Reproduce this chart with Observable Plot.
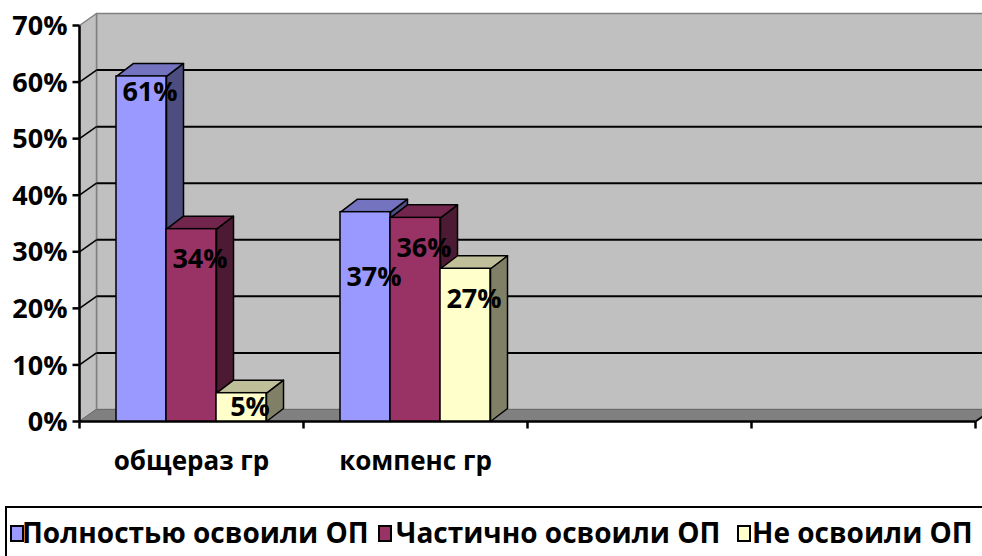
<!DOCTYPE html>
<html>
<head>
<meta charset="utf-8">
<script src="https://cdn.jsdelivr.net/npm/d3@7"></script>
<script src="https://cdn.jsdelivr.net/npm/@observablehq/plot@0.6"></script>
<style>
  html, body { margin: 0; padding: 0; background: #fff; overflow: hidden; width: 982px; height: 556px; }
  #chart { position: absolute; left: 0; top: 0; }
  #legend { position: absolute; left: 5px; top: 506px; width: 1010px; height: 60px; border: 2px solid #000; box-sizing: border-box;
    font-family: "Open Sans", sans-serif; font-weight: bold; font-size: 28px; color: #000; }
  .sw { position: absolute; top: 17px; width: 10px; height: 13px; border: 2px solid #000; }
  .tx { position: absolute; top: 5px; white-space: nowrap; line-height: 38px; }
</style>
</head>
<body>
<div id="chart"></div>
<div id="legend"></div>
<script>
// ---- data ----
const categories = ["общераз гр", "компенс гр", "", ""];
const series = ["Полностью освоили ОП", "Частично освоили ОП", "Не освоили ОП"];
const fullyMastered = [61, 37];
const partlyMastered = [34, 36];
const notMastered = [5, 27];
const yTicks = [0, 10, 20, 30, 40, 50, 60, 70];
const frontColors = ["#9999ff", "#993366", "#ffffcc"];
const topColors = ["#7373bf", "#73264d", "#bfbf99"];
const sideColors = ["#4d4d80", "#4d1a33", "#808066"];

// ---- layout ----
const W = 982, H = 496, mL = 79, mR = 7, mT = 25, mB = 75;
const FONT = '"Open Sans", sans-serif';
const nSlots = categories.length;
const yMax = yTicks[yTicks.length - 1];
const kx = (W - mL - mR) / nSlots;      // px per category slot
const ky = (H - mT - mB) / yMax;        // px per percent
const WX = 17 / kx, WY = 12 / ky;       // wall depth (data units)
const DX = 17 / kx, DY = 13 / ky;       // bar depth (data units)
const bw = 50 / kx;                     // bar width (data units)
const tick = 7;                         // tick length px
const labelDy = [[16, 30, 14], [65, 31, 31]]; // label offset below bar top, px

const valuesBySeries = [fullyMastered, partlyMastered, notMastered];
const bars = [];
valuesBySeries.forEach((vals, s) => vals.forEach((v, i) => {
  const x1 = i + 0.5 - 1.5 * bw + s * bw;
  bars.push({cat: categories[i], i, s, v, x1, x2: x1 + bw, label: v + "%", ly: v - labelDy[i][s] / ky});
}));

const sides = [], tops = [];
bars.forEach((b, k) => {
  const id = "side" + k;
  [[b.x2, 0], [b.x2 + DX, DY], [b.x2 + DX, b.v + DY], [b.x2, b.v]]
    .forEach(([x, y]) => sides.push({id, x, y, fill: sideColors[b.s]}));
});
bars.slice().sort((a, b) => b.s - a.s).forEach((b, k) => {
  const id = "top" + k;
  [[b.x1, b.v], [b.x2, b.v], [b.x2 + DX, b.v + DY], [b.x1 + DX, b.v + DY]]
    .forEach(([x, y]) => tops.push({id, x, y, fill: topColors[b.s]}));
});

const pt = ([x, y]) => ({x, y});
const backWall = [[WX, WY], [nSlots + 1, WY], [nSlots + 1, yMax + WY], [WX, yMax + WY]].map(pt);
const sideWall = [[0, 0], [WX, WY], [WX, yMax + WY], [0, yMax]].map(pt);
const floor = [[0, 0], [nSlots, 0], [nSlots + WX, WY], [WX, WY]].map(pt);
const xTicks = d3.range(nSlots + 1);
const inner = yTicks.filter(t => t > 0 && t < yMax);

const plot = Plot.plot({
  width: W, height: H,
  marginLeft: mL, marginRight: mR, marginTop: mT, marginBottom: mB,
  x: {type: "linear", domain: [0, nSlots], axis: null},
  y: {type: "linear", domain: [0, yMax], axis: null},
  color: {type: "identity"},
  style: {background: "transparent"},
  marks: [
    Plot.line(backWall, {x: "x", y: "y", curve: "linear-closed", fill: "#c0c0c0", stroke: "#808080", strokeWidth: 1.5}),
    Plot.line(sideWall, {x: "x", y: "y", curve: "linear-closed", fill: "#c0c0c0", stroke: "#808080", strokeWidth: 1.5}),
    Plot.line(floor, {x: "x", y: "y", curve: "linear-closed", fill: "#808080", stroke: "#6a6a6a", strokeWidth: 1}),
    Plot.link(inner, {x1: () => WX, x2: () => nSlots + 1, y1: t => t + WY, y2: t => t + WY, stroke: "#000", strokeWidth: 2}),
    Plot.link(inner, {x1: () => 0, x2: () => WX, y1: t => t, y2: t => t + WY, stroke: "#000", strokeWidth: 1.5}),
    // axes
    Plot.link([0], {x1: () => 0, x2: () => 0, y1: () => 0, y2: () => yMax, stroke: "#000", strokeWidth: 2.5}),
    Plot.link([0], {x1: () => 0, x2: () => nSlots, y1: () => 0, y2: () => 0, stroke: "#000", strokeWidth: 2.5}),
    Plot.link([0], {x1: () => nSlots, x2: () => nSlots + WX, y1: () => 0, y2: () => WY, stroke: "#000", strokeWidth: 2}),
    Plot.link(yTicks, {x1: () => -tick / kx, x2: () => 0, y1: d => d, y2: d => d, stroke: "#000", strokeWidth: 2.5}),
    Plot.text(yTicks, {x: () => 0, y: d => d, text: d => d + "%", textAnchor: "end", dx: -12, dy: 1,
      fontFamily: FONT, fontWeight: "bold", fontSize: 27, fill: "#000"}),
    Plot.link(xTicks, {x1: d => d, x2: d => d, y1: () => 0, y2: () => -tick / ky, stroke: "#000", strokeWidth: 2.5}),
    Plot.text(categories, {x: (d, i) => i + 0.5, y: () => 0, text: d => d, dy: 40,
      fontFamily: FONT, fontWeight: "bold", fontSize: 26, fill: "#000"}),
    // bars
    Plot.line(sides, {x: "x", y: "y", z: "id", fill: "fill", stroke: "#000", strokeWidth: 1.5, curve: "linear-closed"}),
    Plot.line(tops, {x: "x", y: "y", z: "id", fill: "fill", stroke: "#000", strokeWidth: 1.5, curve: "linear-closed"}),
    Plot.rect(bars, {x1: "x1", x2: "x2", y1: () => 0, y2: "v", fill: b => frontColors[b.s], stroke: "#000", strokeWidth: 1.5}),
    Plot.text(bars, {x: b => (b.x1 + b.x2) / 2 + DX / 2, y: "ly", text: "label",
      fontFamily: FONT, fontWeight: "bold", fontSize: 27, fill: "#000"})
  ]
});
document.getElementById("chart").appendChild(plot);

// ---- legend ----
const legend = document.getElementById("legend");
const swX = [3, 371, 730], txX = [15, 389, 745];
series.forEach((name, s) => {
  const sw = document.createElement("div");
  sw.className = "sw";
  sw.style.left = swX[s] + "px";
  sw.style.background = frontColors[s];
  const tx = document.createElement("div");
  tx.className = "tx";
  tx.style.left = txX[s] + "px";
  tx.textContent = name;
  legend.appendChild(sw); legend.appendChild(tx);
});
</script>
</body>
</html>
